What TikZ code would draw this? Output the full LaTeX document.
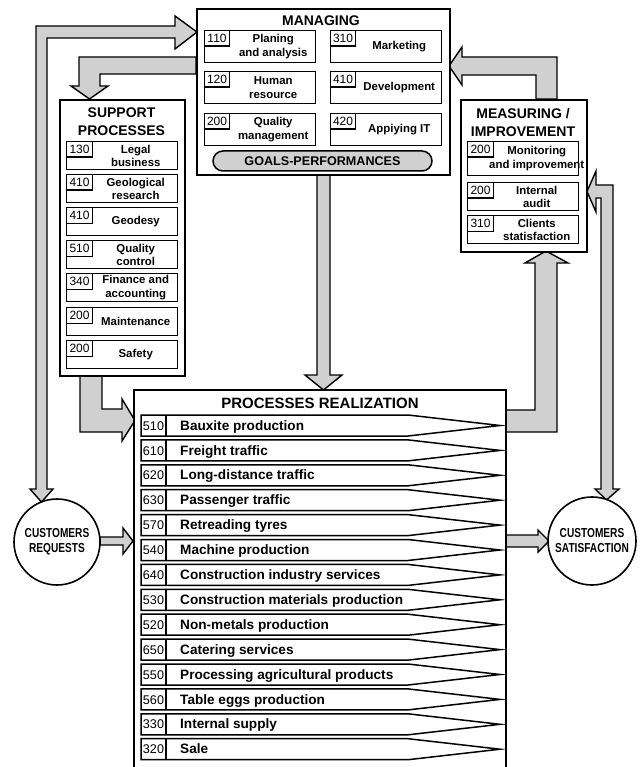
\documentclass[tikz,border=0pt]{standalone}
\usepackage{fontspec}
\usepackage{graphicx}
\setmainfont{Liberation Sans}
\usetikzlibrary{calc}
\definecolor{arrgray}{HTML}{D0D0D0}
\tikzset{
 frame/.style={draw, line width=1.6pt, fill=white, inner sep=0pt, anchor=north west},
 ibox/.style={draw, line width=1.4pt, fill=white, inner sep=0pt, anchor=north west},
 tagbox/.style={draw, line width=1.1pt, inner sep=0pt, anchor=north west, minimum width=25pt, minimum height=15.5pt, font=\fontsize{12}{12}\selectfont},
 stxt/.style={inner sep=0pt, align=center, font=\bfseries\fontsize{11.4}{13.5}\selectfont},
 ttl/.style={inner sep=0pt, align=center, font=\bfseries\fontsize{14}{18}\selectfont},
 fat/.style={draw, line width=1.4pt, fill=arrgray, line join=miter, miter limit=20},
 rowsh/.style={draw, line width=1.5pt, fill=white},
 rowlbl/.style={inner sep=0pt, anchor=base west, font=\bfseries\fontsize{13.6}{14}\selectfont},
 rownum/.style={inner sep=0pt, anchor=base, font=\fontsize{12.6}{13}\selectfont},
 circ/.style={draw, circle, line width=1.6pt, fill=white, inner sep=0pt},
 ctxt/.style={inner sep=0pt, align=center, font=\bfseries\fontsize{13}{15}\selectfont},
}
\newcommand\subbx[8]{%
  \node[ibox, minimum width=#4pt, minimum height=#5pt] (#1) at (#2,#3) {};
  \node[tagbox, minimum width=#6pt] (#1n) at (#2,#3) {#7};
  \node[stxt] (#1t) at ($(#1n.north east)!0.5!(#1.south east)$) {#8};
}
\newcommand\cnd[1]{\scalebox{0.78}[1]{#1}}
\begin{document}
\begin{tikzpicture}[x=1pt,y=-1pt]
\useasboundingbox (0,0) rectangle (640,767);
\clip (0,0) rectangle (640,767);
\fill[white] (0,0) rectangle (640,767);

% ---------- block arrows ----------
% managing -> support
\draw[fat] (196,57) -- (79,57) -- (79,86) -- (71,86) -- (89.5,99) -- (108,86) -- (100,86) -- (100,74) -- (196,74) -- cycle;
% requests <-> managing
\draw[fat] (197,32) -- (175,16) -- (175,26) -- (36,26) -- (36,489) -- (30,489) -- (41.5,502) -- (53,489) -- (47,489) -- (47,38) -- (175,38) -- (175,49) -- cycle;
% managing -> realization
\draw[fat] (317,174) -- (317,375) -- (305,375) -- (323.5,390) -- (342,375) -- (330,375) -- (330,174) -- cycle;
% support -> realization
\draw[fat] (80,375) -- (80,432) -- (122,432) -- (122,441) -- (135,420.5) -- (122,399) -- (122,409) -- (102,409) -- (102,375) -- cycle;
% realization -> measuring
\draw[fat] (505,432) -- (557,432) -- (557,263) -- (568,263) -- (546,251) -- (525,263) -- (535,263) -- (535,410) -- (505,410) -- cycle;
% measuring -> managing
\draw[fat] (536,99) -- (536,75) -- (462,75) -- (462,85) -- (449,66) -- (462,47) -- (462,57) -- (557,57) -- (557,99) -- cycle;
% satisfaction <-> measuring
\draw[fat] (587,191.5) -- (596,171) -- (596,185) -- (613,185) -- (613,489) -- (619,489) -- (606.5,500) -- (595,489) -- (601,489) -- (601,198) -- (596,198) -- (596,212) -- cycle;
% requests -> realization
\draw[fat] (100,537) -- (123,537) -- (123,528) -- (133,541) -- (123,554) -- (123,545) -- (100,545) -- cycle;
% realization -> satisfaction
\draw[fat] (505,535) -- (538,535) -- (538,530) -- (549,541) -- (538,552) -- (538,547) -- (505,547) -- cycle;

% ---------- circles ----------
\node[circ, minimum size=86pt] (req) at (57,542) {};
\node[ctxt] (reqt) at (req.center) {\cnd{CUSTOMERS}\\\cnd{REQUESTS}};
\node[circ, minimum size=88pt] (sat) at (592,541) {};
\node[ctxt] (satt) at (sat.center) {\cnd{CUSTOMERS}\\\cnd{SATISFACTION}};

% ---------- MANAGING ----------
\node[frame, minimum width=253pt, minimum height=166pt] (mgr) at (196,8) {};
\node[ttl] (mgrt) at (321,21) {MANAGING};
\subbx{m1}{204}{30}{111}{32}{25}{110}{Planing\\and analysis}
\subbx{m2}{204}{71}{111}{32}{25}{120}{Human\\resource}
\subbx{m3}{204}{113}{111}{32}{25}{200}{Quality\\management}
\subbx{m4}{330}{30}{111}{32}{25}{310}{Marketing}
\subbx{m5}{330}{71}{111}{32}{25}{410}{Development}
\subbx{m6}{330}{113}{111}{32}{25}{420}{Appiying IT}
\node[draw, line width=1.5pt, fill=arrgray, rounded corners=10pt, minimum width=219pt, minimum height=20pt, inner sep=0pt, font=\bfseries\fontsize{12.6}{13}\selectfont] (goals) at (322.5,161) {GOALS-PERFORMANCES};

% ---------- SUPPORT PROCESSES ----------
\node[frame, minimum width=125pt, minimum height=276pt] (sup) at (59,99) {};
\node[ttl] (supt) at (121.5,122) {SUPPORT\\PROCESSES};
\subbx{s1}{66}{141}{111}{28}{26}{130}{Legal\\business}
\subbx{s2}{66}{174}{111}{28}{26}{410}{Geological\\research}
\subbx{s3}{66}{207}{111}{28}{26}{410}{Geodesy}
\subbx{s4}{66}{240}{111}{28}{26}{510}{Quality\\control}
\subbx{s5}{66}{273}{111}{28}{26}{340}{Finance and\\accounting}
\subbx{s6}{66}{307}{111}{28}{26}{200}{Maintenance}
\subbx{s7}{66}{340}{111}{28}{26}{200}{Safety}

% ---------- MEASURING / IMPROVEMENT ----------
\node[frame, minimum width=126pt, minimum height=152pt] (mes) at (460,99) {};
\node[ttl] (mest) at (523,122) {MEASURING /\\IMPROVEMENT};
\subbx{e1}{467}{141}{111}{34}{26}{200}{Monitoring\\and improvement}
\subbx{e2}{467}{182}{111}{28}{26}{200}{Internal\\audit}
\subbx{e3}{467}{215}{111}{28}{26}{310}{Clients\\statisfaction}

% ---------- PROCESSES REALIZATION ----------
\node[frame, minimum width=372pt, minimum height=390pt] (real) at (133,389) {};
\node[ttl, font=\bfseries\fontsize{15}{18}\selectfont] (realt) at (320,403) {PROCESSES REALIZATION};
\foreach \i/\n/\t in {0/510/Bauxite production, 1/610/Freight traffic, 2/620/Long-distance traffic, 3/630/Passenger traffic, 4/570/Retreading tyres, 5/540/Machine production, 6/640/Construction industry services, 7/530/Construction materials production, 8/520/Non-metals production, 9/650/Catering services, 10/550/Processing agricultural products, 11/560/Table eggs production, 12/330/Internal supply, 13/320/Sale} {
  \pgfmathsetmacro\yt{415+24.9*\i}
  \pgfmathsetmacro\yb{\yt+21}
  \pgfmathsetmacro\ym{\yt+10.5}
  \pgfmathsetmacro\yl{\ym+4.6}
  \draw[rowsh] (141,\yt) -- (408,\yt) -- (500,\ym) -- (408,\yb) -- (141,\yb) -- cycle;
  \draw[line width=1.3pt] (166,\yt) -- (166,\yb);
  \node[rownum] (rn\i) at (153.5,\yl) {\n};
  \node[rowlbl] (rl\i) at (180,\yl) {\t};
}
\end{tikzpicture}
\end{document}
